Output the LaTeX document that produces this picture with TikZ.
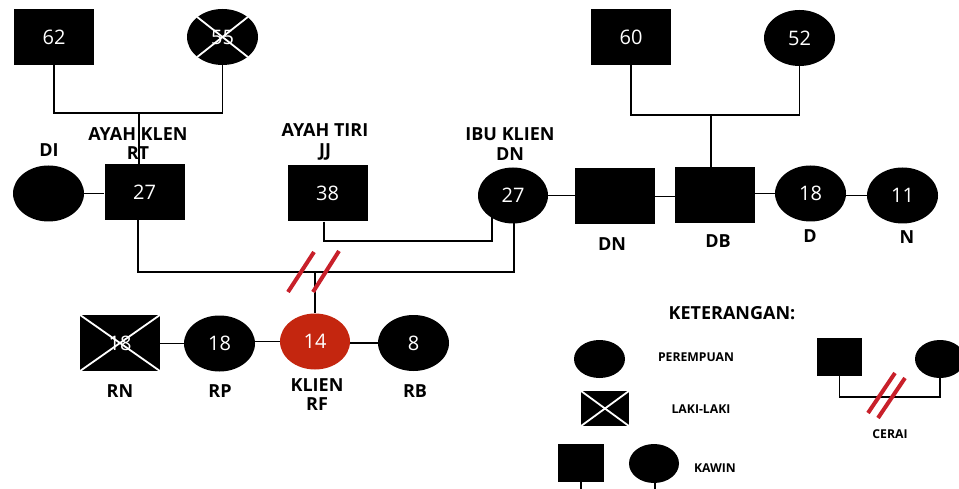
\documentclass[tikz,border=0pt]{standalone}
\usepackage{fontspec}
\setmainfont{Open Sans}
\usetikzlibrary{shapes.geometric}

\definecolor{kliencol}{HTML}{C4260F}
\definecolor{ceraicol}{HTML}{C8202A}

\tikzset{
  male/.style={rectangle,fill=black,text=white,inner sep=0pt,minimum width=80pt,minimum height=56pt,font=\fontsize{20}{22}\selectfont},
  female/.style={ellipse,fill=black,text=white,inner sep=0pt,minimum width=71pt,minimum height=56pt,font=\fontsize{20}{22}\selectfont},
  lbl/.style={align=center,font=\fontsize{18}{19.5}\selectfont\bfseries},
  small/.style={font=\fontsize{12.2}{14}\selectfont\bfseries},
  link/.style={draw=black,line width=1.6pt},
  silang/.style={draw=white,line width=1.8pt},
  cerai/.style={draw=ceraicol,line width=4pt}
}

\begin{document}
\begin{tikzpicture}[x=1pt,y=-1pt]
\useasboundingbox (0,0) rectangle (959,489);

% kakek nenek
\node[male] (k62) at (54,37) {62};
\node[female] (n55) at (222.5,37) {55};
\node[male] (k60) at (631,37) {60};
\node[female] (n52) at (799.5,38) {52};

% orang tua
\node[female] (di) at (48.5,193.5) {};
\node[male] (rt) at (144.5,192) {27};
\node[male] (jj) at (327.5,193.5) {38};
\node[female,minimum width=70pt] (ibu) at (513,195.5) {27};
\node[male] (dn) at (615,196.5) {};
\node[male] (db) at (715,195.5) {};
\node[female] (d) at (810.5,193.5) {18};
\node[female] (n) at (902.5,195.5) {11};

% anak
\node[male] (rn) at (120,343) {18};
\node[female] (rp) at (219.5,343.5) {18};
\node[female,fill=kliencol,minimum width=70pt] (rf) at (315,341.5) {14};
\node[female] (rb) at (413.5,343) {8};

\draw[silang] (n55.north west) -- (n55.south east);
\draw[silang] (n55.north east) -- (n55.south west);
\draw[silang] (rn.north west) -- (rn.south east);
\draw[silang] (rn.north east) -- (rn.south west);

\coordinate (a1) at (139,113);
\coordinate (a2) at (711,115);
\coordinate (b1) at (138,272);
\coordinate (b2) at (514,272);
\coordinate (c1) at (324,241);
\coordinate (c2) at (492,241);
\coordinate (c3) at (315,272);

\draw[link] (k62.south) |- (n55.south |- a1) -- (n55.south);
\draw[link] (a1) -- (a1 |- rt.north);
\draw[link] (k60.south) |- (n52.south |- a2) -- (n52.south);
\draw[link] (a2) -- (a2 |- db.north);
\draw[link] (di) -- (di -| rt.west);
\draw[link] (ibu) -- (ibu -| dn.west);
\draw[link] (dn) -- (dn -| db.west);
\draw[link] (d) -- (d -| db.east);
\draw[link] (n) -- (n -| d.east);
\draw[link] (b1 |- rt.south) -- (b1) -- (b2) -- (b2 |- ibu.center);
\draw[link] (c1 |- jj.south) -- (c1) -- (c2) -- (c2 |- ibu.center);
\draw[link] (c3) -- (c3 |- rf.north);
\draw[link] (rp) -- (rp -| rn.east);
\draw[link] (rf) -- (rf -| rp.east);
\draw[link] (rb) -- (rb -| rf.east);

\draw[cerai] (288,292) -- (314,252);
\draw[cerai] (313,292) -- (339,251);

% nama
\node[lbl] (ldi) at (49,150) {DI};
\node[lbl] (lrt) at (138,143.5) {AYAH KLEN\\RT};
\node[lbl] (ljj) at (325,142) {AYAH TIRI\\JJ};
\node[lbl] (libu) at (510,144) {IBU KLIEN\\DN};
\node[lbl] (ldn) at (612,244) {DN};
\node[lbl] (ldb) at (718,241) {DB};
\node[lbl] (ld) at (810,236) {D};
\node[lbl] (ln) at (907,237) {N};
\node[lbl] (lrn) at (120,391) {RN};
\node[lbl] (lrp) at (220,391) {RP};
\node[lbl] (lrf) at (317,394.5) {KLIEN\\RF};
\node[lbl] (lrb) at (415,391) {RB};

% keterangan
\node[lbl] (ket) at (732,313) {KETERANGAN:};
\node[female,minimum width=51pt,minimum height=38pt] (lp) at (599.5,359) {};
\node[small] (tp) at (696,357) {PEREMPUAN};
\node[male,minimum width=48pt,minimum height=35pt] (ll) at (605,408.5) {};
\draw[silang] (ll.north west) -- (ll.south east);
\draw[silang] (ll.north east) -- (ll.south west);
\node[small] (tl) at (701,409) {LAKI-LAKI};
\node[male,minimum width=46pt,minimum height=38pt] (kl) at (581,463) {};
\node[female,minimum width=50pt,minimum height=39pt] (kp) at (654,463.5) {};
\node[small] (tk) at (715,468) {KAWIN};
\coordinate (e1) at (581,489);
\coordinate (e2) at (655,489);
\draw[link] (kl.south) -- (e1);
\draw[link] (e2 |- kp.south) -- (e2);
\node[male,minimum width=45pt,minimum height=38pt] (cl) at (839.5,357) {};
\node[female,minimum width=50pt,minimum height=38pt] (cp) at (940,359) {};
\coordinate (f1) at (839.5,397);
\draw[link] (cl.south) -- (f1) -- (f1 -| cp.south) -- (cp.south);
\draw[cerai] (868,413) -- (895,373);
\draw[cerai] (878,418) -- (905,378);
\node[small] (tc) at (890,434) {CERAI};
\end{tikzpicture}
\end{document}
